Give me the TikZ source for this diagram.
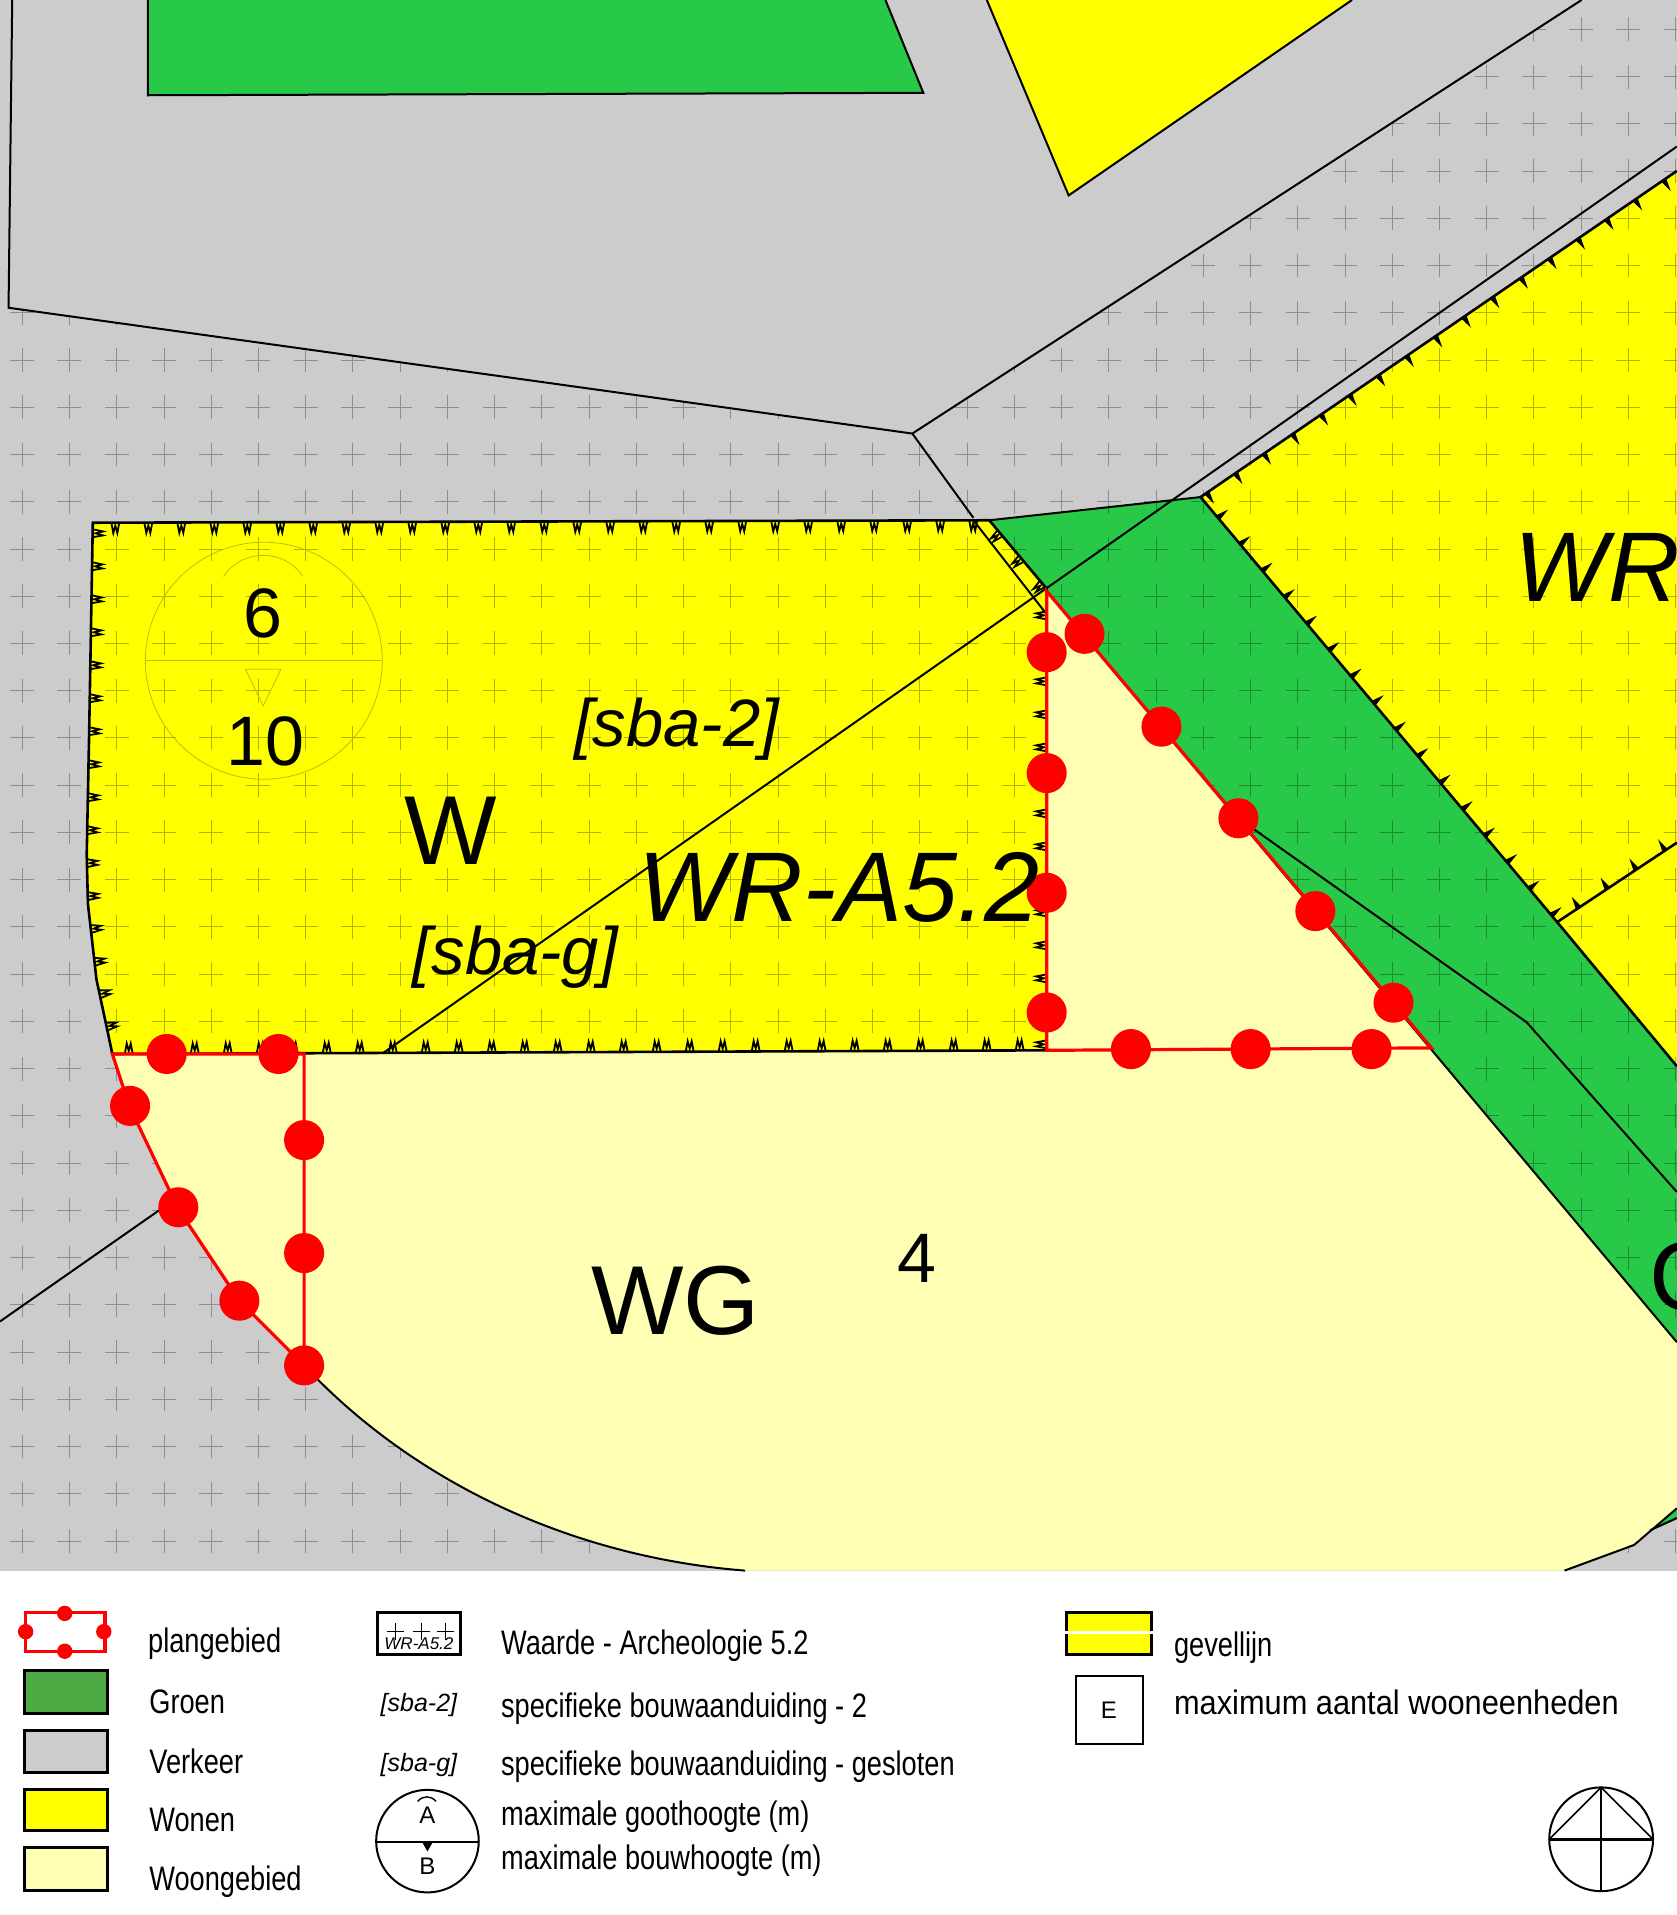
\documentclass[tikz,border=0pt]{standalone}
\usepackage{fontspec}
\setmainfont{Liberation Sans}
\newfontfamily\narrowfont[FakeStretch=0.8]{Liberation Sans}
\newfontfamily\widerfont[FakeStretch=0.905]{Liberation Sans}
\usetikzlibrary{decorations.markings}
\definecolor{groen}{HTML}{28C949}
\definecolor{groenleg}{HTML}{4DAB46}
\definecolor{verkeer}{HTML}{CCCCCC}
\definecolor{wonen}{HTML}{FFFF00}
\definecolor{woongebied}{HTML}{FFFFB3}
\definecolor{faint}{HTML}{BDBD10}

\begin{document}
\begin{tikzpicture}[x=0.6107pt, y=-0.6107pt,
  border/.style={draw=black, line width=1pt},
  wonenedge/.style={draw=black, line width=1.3pt},
  plusmark/.style={black, opacity=0.3, line width=0.45pt},
  planline/.style={draw=red, line width=1.6pt},
  reddot/.style={fill=red},
  legbox/.style={draw=black, line width=1.5pt},
  legtext/.style={anchor=base west, inner sep=0pt, font=\narrowfont\fontsize{17}{20}\selectfont},
  bigtext/.style={inner sep=0pt, font=\fontsize{49}{49}\selectfont},
  bigital/.style={inner sep=0pt, font=\itshape\fontsize{49.5}{50}\selectfont},
  sbatext/.style={inner sep=0pt, font=\itshape\fontsize{33.5}{34}\selectfont},
  numtext/.style={inner sep=0pt, font=\fontsize{35}{35}\selectfont},
  smalltext/.style={inner sep=0pt, font=\fontsize{12}{12}\selectfont},
  wticks/.style={postaction={decorate, decoration={markings,
    mark=between positions 14pt and -1pt step 16.5pt with {
      \draw[black, line width=0.9pt] (-2pt,0pt) -- (-1pt,-5.2pt) -- (0pt,-1.5pt) -- (1pt,-5.2pt) -- (2pt,0pt);}}}},
  spikes/.style={postaction={decorate, decoration={markings,
    mark=between positions 8pt and -1pt step 17.3pt with {
      \fill[black] (-1.5pt,0pt) -- (0.2pt,6.5pt) -- (1.5pt,0pt) -- cycle;}}}}]
\useasboundingbox (0,0) rectangle (1373,1568);
\fill[white] (0,0) rectangle (1373,1568);
\fill[verkeer] (0,0) rectangle (1373,1286);

% map areas
\draw[border, fill=groen] (121,0) -- (121,78) -- (756,76) -- (725,0);
\draw[border, fill=wonen] (808,0) -- (875,160) -- (1107,0);
\fill[wonen] (92,863) -- (85,830) -- (79,802) -- (72,740) -- (71,700) -- (73,600) -- (76,428) -- (810,426) -- (857,482) -- (857,860) -- cycle;
\fill[wonen] (983,407) -- (1373,140) -- (1373,873) -- cycle;
\fill[groen] (810,426) -- (983,407) -- (1373,873) -- (1373,1099) -- (857,484) -- cycle;
\fill[groen] (1351,1253) -- (1373,1235) -- (1373,1243) -- cycle;

% plus grid of the archeology value
\begin{scope}
\clip (0,251) -- (7,252) -- (747,355) -- (1295,0) -- (1373,0) -- (1373,1286) -- (0,1286) -- cycle;
\foreach \i in {0,...,35}
  \foreach \j in {0,...,32}
    \draw[plusmark] ({18.2+38.68*\i},{24+38.68*\j}) +(-9.8,0) -- +(9.8,0) +(0,-9.8) -- +(0,9.8);
\end{scope}

\fill[woongebied] (92,863) -- (857,860) -- (857,484) -- (1373,1099) -- (1373,1235) -- (1338,1265) -- (1281,1286)
  -- (610,1286) .. controls (470,1275) and (340,1215) .. (249,1118) -- (196,1065) -- (146,990) -- (106,906) -- cycle;

% lines
\draw[border] (10,0) -- (7,252) -- (747,355) -- (1295,0);
\draw[border] (747,355) -- (797,424);
\draw[border] (1373,120) -- (314,862);
\draw[border] (797,426) -- (857,503);
\draw[border] (810,426) -- (983,407);
\draw[border] (857,484) -- (1373,1099);
\draw[border] (1014,670) -- (1250,837) -- (1373,976);
\draw[border] (146,980) -- (0,1082);
\draw[border] (249,1118) .. controls (340,1215) and (470,1275) .. (610,1286);
\draw[border] (1281,1286) -- (1338,1265) -- (1373,1235);
\draw[border] (1351,1253) -- (1373,1243);
\draw[wonenedge, wticks] (92,863) -- (85,830) -- (79,802) -- (72,740) -- (71,700) -- (73,600) -- (76,428) -- (810,426) -- (857,482) -- (857,860) -- cycle;
\draw[wonenedge, spikes] (1373,140) -- (983,407) -- (1275,755) -- (1373,690);
\draw[wonenedge] (1275,755) -- (1373,873);

% faint height symbol
\draw[faint, line width=0.4pt] (216,541) circle (97);
\draw[faint, line width=0.4pt] (119,541) -- (313,541);
\draw[faint, line width=0.4pt] (201,548) -- (230,548) -- (215.5,578) -- cycle;
\draw[faint, line width=0.4pt] (183,472) .. controls (198,449) and (233,449) .. (248,472);

% plan area
\draw[planline] (857,484) -- (857,860) -- (1172,858) -- cycle;
\draw[planline] (92,863) -- (249,863) -- (249,1118) -- (196,1065) -- (146,990) -- (106,906) -- cycle;
\foreach \x/\y in {136.5/863, 228/863, 106.5/905.5, 249/933.5, 146/988.5, 249/1026, 196/1065, 249/1118,
  857/534, 888/519, 951/595, 857/633, 1014/670, 857/731, 1077/746, 857/829, 1141/821, 926/859, 1024/859, 1123/859}
  \fill[reddot] (\x,\y) circle (16.4);

% map labels
\node[numtext] (hgoot) at (215,502) {6};
\node[numtext] (hbouw) at (217,607) {10};
\node[bigtext] (lblw) at (369,680) {W};
\node[sbatext] (sbatwo) at (554,597) {[sba-2]};
\node[sbatext] (sbag) at (422,784) {[sba-g]};
\node[bigital] (lblwra) at (687,727) {WR-A5.2};
\node[bigital, anchor=west] (lblwr) at (1240,465) {WR};
\node[bigtext] (lblwg) at (553,1065) {WG};
\node[numtext] (lblfour) at (751,1030) {4};
\node[bigtext, anchor=west] (lblg) at (1350,1045) {G};

% legend, first column
\draw[red, line width=1.6pt] (20.6,1320) rectangle (86,1352.5);
\foreach \x/\y in {53/1321, 53/1352, 21/1336, 85/1336}
  \fill[reddot] (\x,\y) circle (6.3);
\draw[legbox, fill=groenleg] (20,1368) rectangle (88,1403);
\draw[legbox, fill=verkeer] (20,1417) rectangle (88,1451);
\draw[legbox, fill=wonen] (20,1465) rectangle (88,1499);
\draw[legbox, fill=woongebied] (20,1513) rectangle (88,1548);
\node[legtext] (legplan) at (121,1353) {plangebied};
\node[legtext] (leggroen) at (122,1403) {Groen};
\node[legtext] (legverkeer) at (122,1452) {Verkeer};
\node[legtext] (legwonen) at (122,1500) {Wonen};
\node[legtext] (legwoon) at (122,1548) {Woongebied};

% legend, second column
\draw[legbox, fill=white] (309,1320) rectangle (377,1355);
\foreach \x in {323.6,345,365}
  \draw[black, line width=0.4pt] (\x,1336) +(-7,0) -- +(7,0) +(0,-7) -- +(0,7);
\node[inner sep=0pt, font=\itshape\fontsize{8.5}{9}\selectfont] (legwra) at (343,1346) {WR-A5.2};
\node[inner sep=0pt, font=\itshape\fontsize{12.5}{13}\selectfont] (legsbatwo) at (343,1396) {[sba-2]};
\node[inner sep=0pt, font=\itshape\fontsize{12.5}{13}\selectfont] (legsbag) at (343,1445) {[sba-g]};
\draw[black, line width=1pt] (350,1507.5) circle (42);
\draw[black, line width=1.2pt] (308,1508) -- (392,1508);
\draw[black, line width=0.7pt] (342,1475) .. controls (346,1470) and (353,1470) .. (357,1475);
\fill[black] (345.5,1508) -- (354.5,1508) -- (350,1516) -- cycle;
\node[smalltext] (lega) at (350,1486) {A};
\node[smalltext] (legb) at (350,1528) {B};
\node[legtext] (legwaarde) at (410,1355) {Waarde - Archeologie 5.2};
\node[legtext] (legspectwo) at (410,1406) {specifieke bouwaanduiding - 2};
\node[legtext] (legspecg) at (410,1454) {specifieke bouwaanduiding - gesloten};
\node[legtext] (leggoot) at (410,1495) {maximale goothoogte (m)};
\node[legtext] (legbouw) at (410,1531) {maximale bouwhoogte (m)};

% legend, third column
\draw[legbox, fill=wonen] (873.6,1320) rectangle (942.6,1355);
\draw[white, line width=1.5pt] (872,1337) -- (944,1337);
\draw[black, line width=1pt] (881,1372) rectangle (936,1428);
\node[smalltext] (lege) at (908,1400) {E};
\node[legtext] (leggevel) at (961,1356) {gevellijn};
\node[legtext, font=\widerfont\fontsize{17}{20}\selectfont] (legmax) at (961,1404) {maximum aantal wooneenheden};

% north sign
\draw[black, line width=1pt] (1311,1506) circle (42.5);
\draw[black, line width=1.2pt] (1268.5,1506) -- (1353.5,1506);
\draw[black, line width=0.8pt] (1311,1463.5) -- (1311,1548.5);
\draw[black, line width=0.8pt] (1268.5,1506) -- (1311,1463.5) -- (1353.5,1506);
\end{tikzpicture}
\end{document}
